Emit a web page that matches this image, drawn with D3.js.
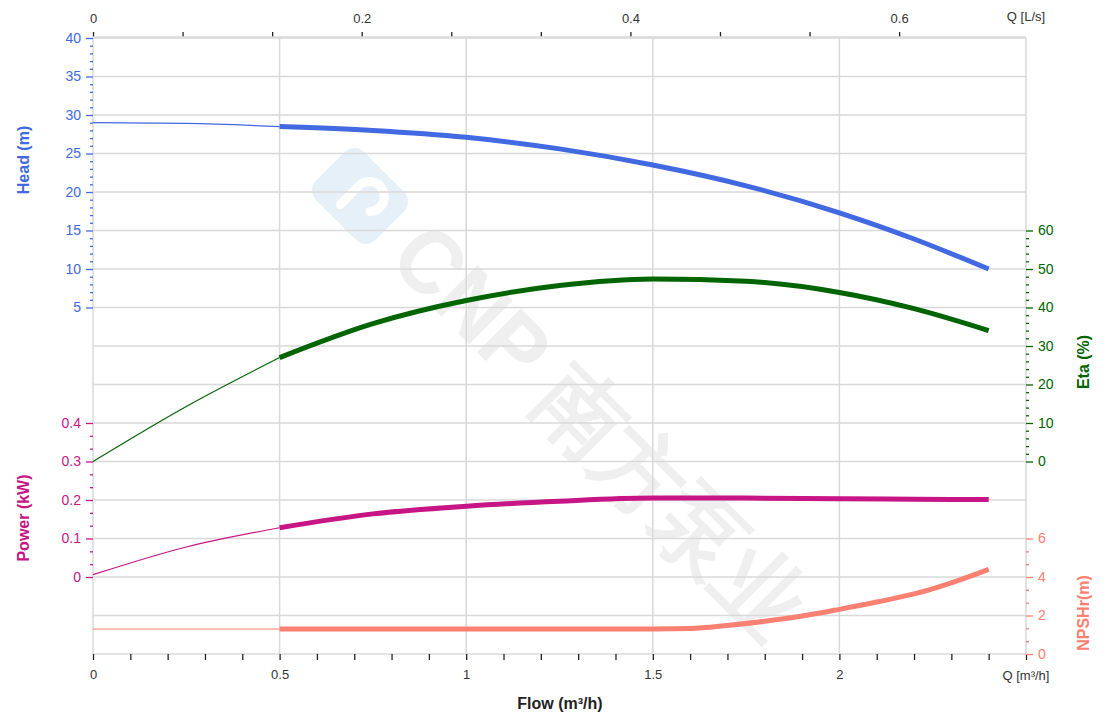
<!DOCTYPE html>
<html><head><meta charset="utf-8">
<script src="https://cdn.jsdelivr.net/npm/d3@7"></script>
<style>
body{margin:0;background:#fff;}
svg text{font-family:"Liberation Sans",Arial,sans-serif;}
</style></head>
<body><svg id="c" width="1120" height="718"></svg>
<script>
// ---- data ----
const flow = [0, 0.25, 0.5, 0.75, 1.0, 1.25, 1.5, 1.75, 2.0, 2.2, 2.4];
const head = [29.0, 28.9, 28.5, 28.0, 27.1, 25.6, 23.5, 20.8, 17.3, 13.9, 10.0];
const eta = [0, 14.3, 27.0, 35.8, 41.8, 45.7, 47.4, 46.8, 43.9, 39.7, 34.0];
const power = [0.006, 0.078, 0.128, 0.164, 0.184, 0.197, 0.205, 0.205, 0.203, 0.202, 0.201];
const npshFlow = [0, 0.5, 1.0, 1.5, 1.6, 1.7, 1.8, 1.9, 2.0, 2.1, 2.2, 2.3, 2.4];
const npsh = [1.3, 1.3, 1.3, 1.3, 1.32, 1.48, 1.7, 1.97, 2.32, 2.7, 3.12, 3.7, 4.4];
const flowTicks = [0, 0.5, 1, 1.5, 2];
const qlsTicks = [0, 0.2, 0.4, 0.6];
const headTicks = [5, 10, 15, 20, 25, 30, 35, 40];
const etaTicks = [0, 10, 20, 30, 40, 50, 60];
const powerTicks = [0, 0.1, 0.2, 0.3, 0.4];
const npshTicks = [0, 2, 4, 6];
const thickFrom = 0.5;

const C = {head:"#4169E1", eta:"#006400", power:"#C71585", npsh:"#FA8072", grid:"#d9d9d9"};
const L = 93, R = 1026, T = 38, B = 654;
const svg = d3.select("#c");

const x = d3.scaleLinear().domain([0, 2.5]).range([L, R]);
const xq = d3.scaleLinear().domain([0, 2.5/3.6]).range([L, R]);
const yH = d3.scaleLinear().domain([-40, 40]).range([B, T]);
const yE = d3.scaleLinear().domain([-50, 110]).range([B, T]);
const yP = d3.scaleLinear().domain([-0.2, 1.4]).range([B, T]);
const yN = d3.scaleLinear().domain([0, 32]).range([B, T]);

// watermark
const wm = svg.append("g").attr("transform","translate(600,430) rotate(45)");
wm.append("text").attr("x",0).attr("y",32).attr("text-anchor","middle")
  .attr("font-size",90).attr("font-weight","bold").attr("fill","#efefef")
  .attr("textLength",540).attr("lengthAdjust","spacingAndGlyphs")
  .attr("font-family","'Noto Sans CJK SC','Liberation Sans',sans-serif")
  .text("CNP 南方泵业");
const lg = svg.append("g").attr("transform","translate(360,196) rotate(45)");
lg.append("rect").attr("x",-42).attr("y",-34).attr("width",84).attr("height",68).attr("rx",14).attr("fill","#e6f0f9");
lg.append("path").attr("d","M-8,20 L-8,-6 A15,15 0 1 1 18,4").attr("fill","none").attr("stroke","#fff").attr("stroke-width",9).attr("stroke-linecap","round");

// grid
svg.append("g").selectAll("line").data(d3.range(-40, 41, 5)).join("line")
  .attr("x1",L).attr("x2",R).attr("y1",d=>yH(d)).attr("y2",d=>yH(d))
  .attr("stroke",C.grid).attr("stroke-width",1.5);
svg.append("g").selectAll("line").data(flowTicks.concat([2.5]).filter(d=>d>0)).join("line")
  .attr("x1",d=>x(d)).attr("x2",d=>x(d)).attr("y1",T).attr("y2",B)
  .attr("stroke",C.grid).attr("stroke-width",1.5);
svg.append("line").attr("x1",L).attr("x2",L).attr("y1",T).attr("y2",B).attr("stroke",C.grid).attr("stroke-width",1.5);

// axes
function styleAxis(g, color, textColor){
  g.select(".domain").remove();
  g.selectAll(".tick line").attr("stroke",color).attr("stroke-width",1.3);
  g.selectAll(".tick text").attr("fill",textColor).attr("font-size",13);
}
const bottomMinor = d3.range(0, 2.501, 0.1);
const gb = svg.append("g").attr("transform",`translate(0,${B})`)
  .call(d3.axisBottom(x).tickValues(bottomMinor).tickSize(6).tickPadding(10)
    .tickFormat(d=> flowTicks.some(t=>Math.abs(t-d)<1e-6) ? d3.format("")(Math.round(d*10)/10) : ""));
styleAxis(gb, "#222", "#333");
const topMinor = d3.range(0, 0.61, 0.2/3);
const gt = svg.append("g").attr("transform",`translate(0,${T-1})`)
  .call(d3.axisTop(xq).tickValues(topMinor).tickSize(5).tickPadding(9)
    .tickFormat(d=> qlsTicks.some(t=>Math.abs(t-d)<1e-6) ? String(Math.round(d*10)/10) : ""));
styleAxis(gt, "#222", "#333");
svg.append("line").attr("x1",L).attr("x2",R).attr("y1",T-1).attr("y2",T-1).attr("stroke",C.grid).attr("stroke-width",1.5);

function yAxis(scale, major, minorStep, minorEnd, color, side){
  const gen = side==="left" ? d3.axisLeft : d3.axisRight;
  const minors = d3.range(major[0], major[major.length-1]+1e-9, minorStep).filter(v=>!major.some(m=>Math.abs(m-v)<1e-9));
  const g1 = svg.append("g").attr("transform",`translate(${side==="left"?L:R},0)`)
    .call(gen(scale).tickValues(minors).tickSize(minorEnd).tickFormat(""));
  styleAxis(g1, color, color);
  const g2 = svg.append("g").attr("transform",`translate(${side==="left"?L:R},0)`)
    .call(gen(scale).tickValues(major).tickSize(7).tickPadding(5).tickFormat(d=>String(+d.toFixed(2))));
  styleAxis(g2, color, color);
  g2.selectAll(".tick text").attr("font-size",14);
}
yAxis(yH, headTicks, 1, 3, C.head, "left");
yAxis(yP, powerTicks, 0.1/3, 3, C.power, "left");
yAxis(yE, etaTicks, 2, 3, C.eta, "right");
yAxis(yN, npshTicks, 2/3, 3, C.npsh, "right");

// axis titles
function vtitle(txt, cx, cy, color){
  svg.append("text").attr("transform",`translate(${cx},${cy}) rotate(-90)`).attr("text-anchor","middle")
    .attr("font-size",16).attr("font-weight","bold").attr("fill",color).text(txt);
}
vtitle("Head (m)", 29, 160, C.head);
vtitle("Power (kW)", 29, 518, C.power);
vtitle("Eta (%)", 1089, 362, C.eta);
vtitle("NPSHr(m)", 1089, 613, C.npsh);
svg.append("text").attr("x",560).attr("y",709).attr("text-anchor","middle").attr("font-size",16).attr("font-weight","bold").attr("fill","#222").text("Flow (m³/h)");
svg.append("text").attr("x",1026).attr("y",680).attr("text-anchor","middle").attr("font-size",13).attr("fill","#333").text("Q [m³/h]");
svg.append("text").attr("x",1026).attr("y",21).attr("text-anchor","middle").attr("font-size",13).attr("fill","#333").text("Q [L/s]");

// curves
function curve(xs, ys, yScale, color){
  const pts = xs.map((q,i)=>[q, ys[i]]);
  const line = d3.line().x(d=>x(d[0])).y(d=>yScale(d[1])).curve(d3.curveMonotoneX);
  svg.append("path").attr("d", line(pts.filter(d=>d[0]<=thickFrom+1e-9))).attr("fill","none").attr("stroke",color).attr("stroke-width",1.2);
  svg.append("path").attr("d", line(pts.filter(d=>d[0]>=thickFrom-1e-9))).attr("fill","none").attr("stroke",color).attr("stroke-width",5);
}
curve(flow, head, yH, C.head);
curve(flow, eta, yE, C.eta);
curve(flow, power, yP, C.power);
curve(npshFlow, npsh, yN, C.npsh);
</script></body></html>
